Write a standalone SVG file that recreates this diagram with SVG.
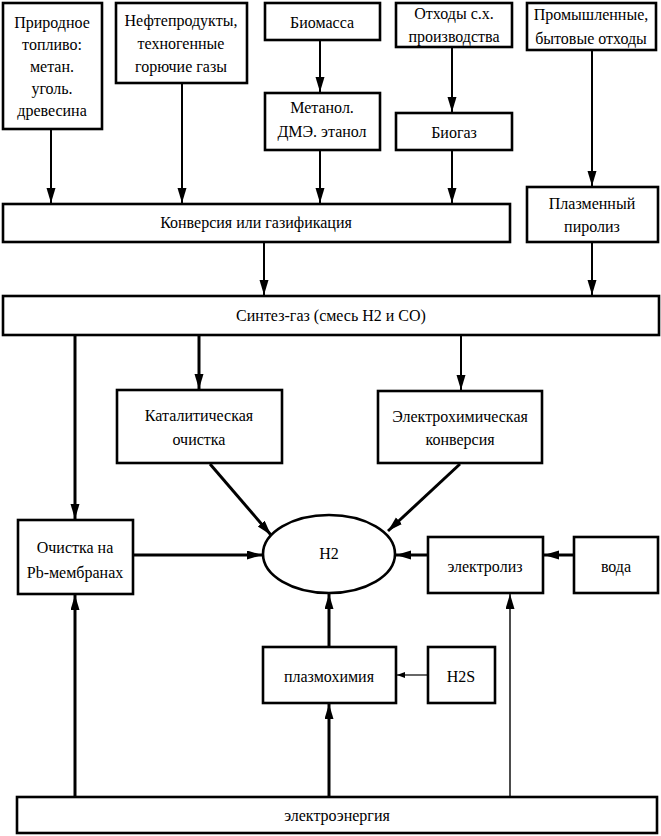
<svg xmlns="http://www.w3.org/2000/svg" width="661" height="836" viewBox="0 0 661 836" font-family="'Liberation Serif', 'DejaVu Serif', serif">
<style>
.b{fill:#fff;stroke:#000;stroke-width:2.6}
text{font-family:'Liberation Serif','DejaVu Serif',serif;font-size:16px;fill:#000;text-anchor:middle}
.c line{stroke:#000;stroke-width:2;marker-end:url(#a)}
.c line.t{stroke-width:1.4}
.c line.s{stroke-width:1.2;marker-end:url(#as)}
.c line.k{stroke-width:3}
</style>
<defs>
<marker id="a" markerUnits="userSpaceOnUse" markerWidth="16" markerHeight="10" refX="15" refY="4.5" orient="auto"><path d="M0,0 L15,4.5 L0,9 z" fill="#000"/></marker>
<marker id="as" markerUnits="userSpaceOnUse" markerWidth="10" markerHeight="8" refX="8" refY="3" orient="auto"><path d="M0,0 L8,3 L0,6 z" fill="#000"/></marker>
</defs>
<rect width="661" height="836" fill="#fff"/>
<g id="n1"><rect class="b" x="3" y="3" width="99" height="126"/><text x="52" y="28">Природное</text><text x="52" y="50">топливо:</text><text x="52" y="72">метан.</text><text x="52" y="94">уголь.</text><text x="52" y="116">древесина</text></g>
<g id="n2"><rect class="b" x="116" y="3" width="131" height="80"/><text x="181" y="26">Нефтепродукты,</text><text x="181" y="49">техногенные</text><text x="181" y="72">горючие газы</text></g>
<g id="n3"><rect class="b" x="265" y="3" width="115" height="37"/><text x="322" y="28">Биомасса</text></g>
<g id="n4"><rect class="b" x="265" y="93" width="115" height="57"/><text x="322" y="113">Метанол.</text><text x="322" y="137">ДМЭ. этанол</text></g>
<g id="n5"><rect class="b" x="396" y="3" width="116" height="44"/><text x="454" y="19">Отходы с.х.</text><text x="454" y="42">производства</text></g>
<g id="n6"><rect class="b" x="396" y="113" width="116" height="37"/><text x="454" y="138">Биогаз</text></g>
<g id="n7"><rect class="b" x="527" y="3" width="129" height="47"/><text x="591" y="20">Промышленные,</text><text x="591" y="44">бытовые отходы</text></g>
<g id="n8"><rect class="b" x="3" y="204" width="507" height="38"/><text x="256" y="228">Конверсия или газификация</text></g>
<g id="n9"><rect class="b" x="527" y="187" width="131" height="55"/><text x="592" y="209">Плазменный</text><text x="592" y="232">пиролиз</text></g>
<g id="n10"><rect class="b" x="3" y="296" width="656" height="39"/><text x="331" y="321">Синтез-газ (смесь H2 и СО)</text></g>
<g id="n11"><rect class="b" x="117" y="390" width="165" height="73"/><text x="199" y="421">Каталитическая</text><text x="199" y="445">очистка</text></g>
<g id="n12"><rect class="b" x="378" y="391" width="164" height="72"/><text x="460" y="422">Электрохимическая</text><text x="460" y="445">конверсия</text></g>
<g id="n13"><rect class="b" x="18" y="520" width="115" height="74"/><text x="75" y="553">Очистка на</text><text x="75" y="578">Pb-мембранах</text></g>
<g id="n14"><ellipse class="b" cx="329" cy="554" rx="66" ry="39"/><text x="329" y="559">H2</text></g>
<g id="n15"><rect class="b" x="428" y="537" width="115" height="56"/><text x="485" y="572">электролиз</text></g>
<g id="n16"><rect class="b" x="574" y="537" width="84" height="56"/><text x="616" y="572">вода</text></g>
<g id="n17"><rect class="b" x="263" y="647" width="133" height="56"/><text x="329" y="682">плазмохимия</text></g>
<g id="n18"><rect class="b" x="428" y="647" width="67" height="56"/><text x="461" y="682">H2S</text></g>
<g id="n19"><rect class="b" x="17" y="797" width="640" height="36"/><text x="337" y="821">электроэнергия</text></g>
<g id="connectors" class="c">
<line x1="51" y1="130" x2="51" y2="203"/>
<line x1="182" y1="84" x2="182" y2="203"/>
<line x1="320" y1="41" x2="320" y2="92"/>
<line x1="320" y1="151" x2="320" y2="203"/>
<line x1="452" y1="48" x2="452" y2="112"/>
<line x1="452" y1="151" x2="452" y2="203"/>
<line x1="592" y1="51" x2="592" y2="186"/>
<line x1="264" y1="243" x2="264" y2="295"/>
<line x1="592" y1="243" x2="592" y2="295"/>
<line class="k" x1="75" y1="336" x2="75" y2="519"/>
<line class="k" x1="199" y1="336" x2="199" y2="389"/>
<line x1="461" y1="336" x2="461" y2="390"/>
<line class="k" x1="210" y1="464" x2="271" y2="535"/>
<line class="k" x1="460" y1="464" x2="388" y2="531"/>
<line class="k" x1="134" y1="555" x2="262" y2="555"/>
<line class="k" x1="427" y1="555" x2="396" y2="555"/>
<line class="k" x1="573" y1="555" x2="544" y2="555"/>
<line class="k" x1="329" y1="646" x2="329" y2="594"/>
<line class="s" x1="427" y1="675" x2="397" y2="675"/>
<line class="k" x1="75" y1="796" x2="75" y2="595"/>
<line class="k" x1="329" y1="796" x2="329" y2="704"/>
<line class="t" x1="510" y1="796" x2="510" y2="594"/>
</g>
</svg>
